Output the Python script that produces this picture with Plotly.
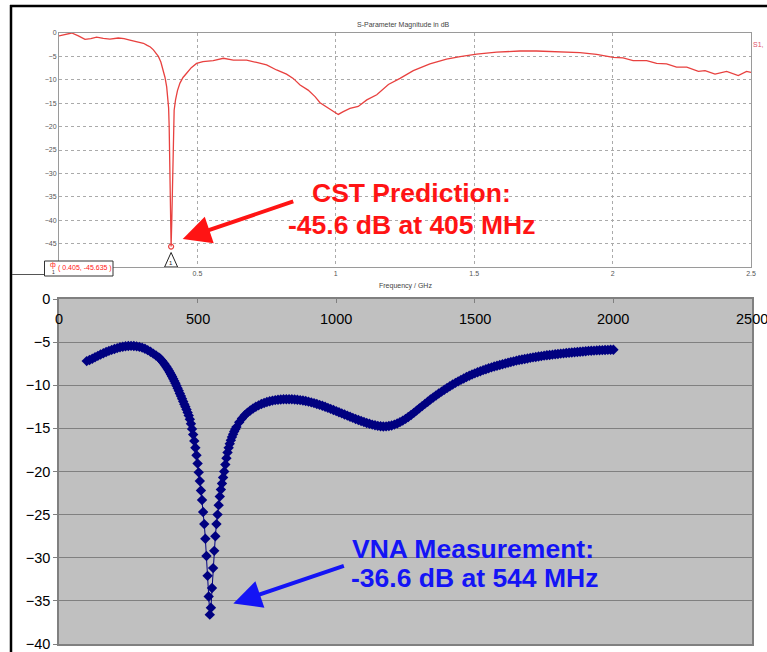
import plotly.graph_objects as go

W, H = 767, 652

# ---------------- CST simulation (top panel) ----------------
cst_freq_ghz = [0, 0.02, 0.046, 0.07, 0.094, 0.115, 0.136, 0.16, 0.184, 0.214, 0.235, 0.256, 0.275,
                0.293, 0.305, 0.317, 0.33, 0.341, 0.35, 0.359, 0.368, 0.377, 0.383, 0.389, 0.393, 0.396,
                0.398, 0.3995, 0.402, 0.4045, 0.405, 0.4075, 0.41, 0.4115, 0.413, 0.416, 0.421, 0.428,
                0.437, 0.448, 0.461, 0.478, 0.497, 0.52, 0.557, 0.594, 0.63, 0.678, 0.714, 0.75, 0.786,
                0.822, 0.846, 0.871, 0.9, 0.925, 0.943, 0.973, 1.009, 1.027, 1.051, 1.081, 1.112, 1.148,
                1.19, 1.232, 1.28, 1.34, 1.4, 1.449, 1.509, 1.581, 1.665, 1.725, 1.798, 1.882, 1.942,
                2.002, 2.038, 2.074, 2.123, 2.159, 2.195, 2.231, 2.268, 2.31, 2.334, 2.37, 2.412, 2.454,
                2.484, 2.5]
cst_s11_db = [-0.6, -0.3, 0.0, -0.6, -1.35, -1.2, -0.9, -1.15, -1.3, -1.07, -1.2, -1.5, -1.75,
              -1.9, -2.2, -2.6, -3.0, -3.6, -4.2, -5.0, -6.2, -7.9, -9.5, -11.5, -13.5, -16.0,
              -20.0, -25.0, -32.0, -40.0, -45.635, -40.0, -32.0, -25.0, -20.0, -16.5, -14.3, -12.3,
              -10.7, -9.5, -8.6, -7.4, -6.5, -6.1, -5.9, -5.4, -5.8, -5.8, -6.3, -6.8, -7.9,
              -8.8, -9.7, -11.1, -12.2, -13.6, -14.9, -16.1, -17.4, -16.8, -16.1, -15.7, -14.3, -13.2,
              -11.0, -9.7, -8.05, -6.6, -5.6, -5.05, -4.5, -4.1, -3.85, -3.85, -4.0, -4.2, -4.55,
              -5.2, -5.3, -5.9, -5.9, -6.5, -6.6, -7.3, -7.3, -8.2, -8.05, -8.8, -8.2, -9.1,
              -8.2, -8.4]
cst_marker_freq = 0.405
cst_marker_db = -45.635

top_xticks = [0, 0.5, 1, 1.5, 2, 2.5]
top_xtick_labels = ["0", "0.5", "1", "1.5", "2", "2.5"]
top_yticks = [0, -5, -10, -15, -20, -25, -30, -35, -40, -45]

# ---------------- VNA measurement (bottom panel) ----------------
vna_freq_mhz = [
    100, 110, 120, 130, 140, 150, 160, 170, 180, 190, 200, 210, 220, 230, 240, 250, 260, 270, 280,
    290, 300, 310, 320, 330, 340, 350, 360,
    364, 368, 372, 376, 380, 384, 388, 392, 396, 400, 404, 408, 412, 416, 420, 424, 428, 432, 436,
    440, 444, 448, 452, 456, 460, 464, 468, 472, 476, 480, 484, 488, 492, 496, 500, 504, 508, 512,
    516, 520, 524, 528, 532, 536, 540, 544, 548, 552, 556, 560, 564, 568, 572, 576, 580, 584, 588,
    592, 596, 600, 604, 608, 612, 616, 620, 624, 628, 632, 636, 640,
    650, 660, 670, 680, 690, 700, 710, 720, 730, 740, 750, 760, 770, 780, 790, 800, 810, 820, 830,
    840, 850, 860, 870, 880, 890, 900, 910, 920, 930, 940, 950, 960, 970, 980, 990, 1000, 1010,
    1020, 1030, 1040, 1050, 1060, 1070, 1080, 1090, 1100, 1110, 1120, 1130, 1140, 1150, 1160, 1170,
    1180, 1190, 1200, 1210, 1220, 1230, 1240, 1250, 1260, 1270, 1280, 1290, 1300, 1310, 1320, 1330,
    1340, 1350, 1360, 1370, 1380, 1390, 1400,
    1410, 1420, 1430, 1440, 1450, 1460, 1470, 1480, 1490, 1500, 1510, 1520, 1530, 1540, 1550, 1560,
    1570, 1580, 1590, 1600, 1610, 1620, 1630, 1640, 1650, 1660, 1670, 1680, 1690, 1700, 1710, 1720,
    1730, 1740, 1750, 1760, 1770, 1780, 1790, 1800, 1810, 1820, 1830, 1840, 1850, 1860, 1870, 1880,
    1890, 1900, 1910, 1920, 1930, 1940, 1950, 1960, 1970, 1980, 1990, 2000]
vna_s11_db = [
    -7.2, -7.07, -6.92, -6.76, -6.6, -6.44, -6.29, -6.15, -6.02, -5.9, -5.79, -5.69, -5.6, -5.53,
    -5.48, -5.45, -5.44, -5.45, -5.49, -5.55, -5.64, -5.77, -5.93, -6.12, -6.33, -6.55, -6.77,
    -6.9, -7.04, -7.19, -7.35, -7.52, -7.7, -7.89, -8.09, -8.3, -8.52, -8.75, -8.99, -9.24, -9.5,
    -9.77, -10.05, -10.34, -10.64, -10.95, -11.26, -11.57, -11.88, -12.19, -12.5, -12.82, -13.15,
    -13.5, -13.95, -14.47, -15.06, -15.72, -16.45, -17.25, -18.12, -19.07, -20.1, -21.1, -22.2,
    -23.3, -24.7, -26.1, -27.8, -29.8, -32.1, -34.5, -36.6, -35.8, -33.5, -31.2, -29.2, -27.5,
    -26.1, -25.0, -23.9, -22.9, -22.1, -21.4, -20.7, -20.0, -19.2, -18.45, -17.8, -17.25, -16.78,
    -16.37, -16.0, -15.67, -15.37, -15.1, -14.85,
    -14.3, -13.85, -13.48, -13.17, -12.92, -12.7, -12.5, -12.33, -12.18, -12.05, -11.94, -11.85,
    -11.78, -11.72, -11.68, -11.65, -11.63, -11.62, -11.62, -11.63, -11.65, -11.68, -11.72, -11.77,
    -11.83, -11.9, -11.98, -12.07, -12.17, -12.27, -12.38, -12.5, -12.62, -12.74, -12.87, -13.0,
    -13.13, -13.26, -13.39, -13.52, -13.65, -13.78, -13.91, -14.03, -14.15, -14.26, -14.37, -14.47,
    -14.56, -14.64, -14.71, -14.76, -14.78, -14.77, -14.73, -14.66, -14.56, -14.43, -14.28, -14.1,
    -13.9, -13.68, -13.45, -13.2, -12.94, -12.68, -12.42, -12.16, -11.91, -11.66, -11.42, -11.19,
    -10.96, -10.74, -10.53, -10.32,
    -10.12, -9.92, -9.73, -9.55, -9.38, -9.21, -9.05, -8.9, -8.76, -8.62, -8.49, -8.37, -8.25, -8.14,
    -8.03, -7.93, -7.83, -7.74, -7.65, -7.56, -7.47, -7.39, -7.31, -7.23, -7.15, -7.08, -7.01, -6.95,
    -6.89, -6.83, -6.77, -6.72, -6.67, -6.62, -6.57, -6.53, -6.49, -6.45, -6.41, -6.37, -6.33, -6.3,
    -6.26, -6.23, -6.2, -6.17, -6.14, -6.11, -6.08, -6.05, -6.02, -6.0, -5.98, -5.96, -5.94, -5.93,
    -5.91, -5.9, -5.89, -5.88]

bot_xticks = [0, 500, 1000, 1500, 2000, 2500]
bot_xtick_labels = ["0", "500", "1000", "1500", "2000", "2500"]
bot_yticks = [0, -5, -10, -15, -20, -25, -30, -35, -40]


def px(p):
    return p / W


def py(p):
    return 1 - p / H


RED_LINE = "#E8413F"
RED_TXT = "#FF1414"
BLUE_TXT = "#1414F5"
NAVY = "#000080"

fig = go.Figure()

fig.add_trace(go.Scatter(x=cst_freq_ghz, y=cst_s11_db, mode="lines",
                         line=dict(color=RED_LINE, width=1.3), xaxis="x", yaxis="y",
                         hoverinfo="skip"))
fig.add_trace(go.Scatter(x=[cst_marker_freq], y=[cst_marker_db], mode="markers",
                         marker=dict(symbol="circle-open", size=5, color=RED_LINE,
                                     line=dict(width=1.2)),
                         xaxis="x", yaxis="y", cliponaxis=False))
fig.add_trace(go.Scatter(x=vna_freq_mhz, y=vna_s11_db, mode="lines+markers",
                         line=dict(color=NAVY, width=1),
                         marker=dict(symbol="diamond", size=8, color=NAVY),
                         xaxis="x2", yaxis="y2"))

top_tickfont = dict(family="Liberation Sans", size=7, color="#555555")
bot_tickfont = dict(family="Liberation Sans", size=14.5, color="black")

fig.update_layout(
    width=W, height=H, margin=dict(l=0, r=0, t=0, b=0, autoexpand=False),
    paper_bgcolor="white", plot_bgcolor="white", showlegend=False,
    font=dict(family="Liberation Sans"),
    xaxis=dict(domain=[px(59), px(751)], range=[0, 2.5], anchor="y",
               showline=True, mirror=True, linecolor="#9a9a9a", linewidth=1,
               showgrid=True, gridcolor="#aaaaaa", griddash="dot", gridwidth=1,
               zeroline=False, tickvals=top_xticks, ticktext=top_xtick_labels,
               ticks="", tickfont=top_tickfont, fixedrange=True),
    yaxis=dict(domain=[py(267), py(33)], range=[-50, 0], anchor="x",
               showline=True, mirror=True, linecolor="#9a9a9a", linewidth=1,
               showgrid=True, gridcolor="#aaaaaa", griddash="dot", gridwidth=1,
               zeroline=False, tickvals=top_yticks, ticks="", tickfont=top_tickfont,
               fixedrange=True),
    xaxis2=dict(domain=[px(59), px(752)], range=[0, 2500], anchor="y2", side="top",
                showline=True, mirror=True, linecolor="#808080", linewidth=1.5,
                showgrid=False, zeroline=False, showticklabels=False,
                tickvals=bot_xticks, ticks="inside", ticklen=4, tickcolor="#808080",
                fixedrange=True),
    yaxis2=dict(domain=[py(644), py(299)], range=[-40, 0], anchor="x2",
                showline=True, mirror=True, linecolor="#808080", linewidth=1.5,
                showgrid=True, gridcolor="#808080", gridwidth=1, zeroline=False,
                tickvals=bot_yticks, ticks="outside", ticklen=4, tickcolor="#808080",
                tickfont=bot_tickfont, ticklabeloverflow="allow", fixedrange=True),
)

shapes = [
    # grey plot area of the Excel chart
    dict(type="rect", xref="x2 domain", yref="y2 domain", x0=0, x1=1, y0=0, y1=1,
         fillcolor="#C0C0C0", line=dict(width=0), layer="below"),
    # black page border lines
    dict(type="line", xref="paper", yref="paper", x0=px(10), x1=1, y0=py(6), y1=py(6),
         line=dict(color="black", width=2.5)),
    dict(type="line", xref="paper", yref="paper", x0=px(11), x1=px(11), y0=0, y1=py(5),
         line=dict(color="black", width=2.5)),
    # small line left of the marker box
    dict(type="line", xref="paper", yref="paper", x0=px(12), x1=px(45), y0=py(274.5),
         y1=py(274.5), line=dict(color="#555555", width=1)),
    # marker read-out box
    dict(type="rect", xref="paper", yref="paper", x0=px(44.5), x1=px(113), y0=py(276),
         y1=py(261), fillcolor="white", line=dict(color="#333333", width=1), layer="above"),
    # marker triangle
    dict(type="path", xref="x", yref="y", layer="above",
         path=f"M {cst_marker_freq - 0.0235},-50 L {cst_marker_freq},-46.9 "
              f"L {cst_marker_freq + 0.0235},-50 Z",
         fillcolor="white", line=dict(color="#222222", width=1)),
]
fig.update_layout(shapes=shapes)

ann = [
    dict(text="S-Parameter Magnitude in dB", x=px(403), y=py(19), xref="paper", yref="paper",
         showarrow=False, font=dict(size=7, color="#444444")),
    dict(text="S1,", x=px(766), y=py(39), xref="paper", yref="paper", xanchor="right",
         showarrow=False, font=dict(size=7, color="#E0506A")),
    dict(text="Frequency / GHz", x=px(405), y=py(286), xref="paper", yref="paper",
         showarrow=False, font=dict(size=7, color="#444444")),
    dict(text=f"( {cst_marker_freq}, {cst_marker_db} )", x=px(56), y=py(268), xref="paper",
         yref="paper", xanchor="left", showarrow=False, font=dict(size=7, color=RED_TXT)),
    dict(text="ф", x=px(48), y=py(265.5), xref="paper", yref="paper", showarrow=False,
         font=dict(size=7, color=RED_TXT)),
    dict(text="1", x=px(50), y=py(271.5), xref="paper", yref="paper", showarrow=False,
         font=dict(size=5, color="#333333")),
    dict(text="1", x=cst_marker_freq, y=-49.2, xref="x", yref="y", showarrow=False,
         font=dict(size=6, color="#222222")),
    # CST call-out
    dict(text="<b>CST Prediction:</b>", x=1.275, y=-34.2, xref="x", yref="y", showarrow=False,
         font=dict(size=26.5, color=RED_TXT)),
    dict(text="<b>-45.6 dB at 405 MHz</b>", x=1.275, y=-41.0, xref="x", yref="y",
         showarrow=False, font=dict(size=26.5, color=RED_TXT)),
    dict(text="", x=0.447, y=-44.0, xref="x", yref="y", ax=112, ay=-38, showarrow=True,
         arrowhead=2, arrowsize=1.4, arrowwidth=4, arrowcolor=RED_TXT, standoff=0),
    # VNA call-out
    dict(text="<b>VNA Measurement:</b>", x=1050, y=-29.0, xref="x2", yref="y2",
         xanchor="left", showarrow=False, font=dict(size=26.5, color=BLUE_TXT)),
    dict(text="<b>-36.6 dB at 544 MHz</b>", x=1046, y=-32.4, xref="x2", yref="y2",
         xanchor="left", showarrow=False, font=dict(size=26.5, color=BLUE_TXT)),
    dict(text="", x=629, y=-35.3, xref="x2", yref="y2", ax=112, ay=-38, showarrow=True,
         arrowhead=2, arrowsize=1.4, arrowwidth=4, arrowcolor=BLUE_TXT, standoff=0),
]
# bottom chart x tick labels (drawn under the top axis line, inside the grey area)
for v, lab in zip(bot_xticks, bot_xtick_labels):
    ann.append(dict(text=lab, x=v, y=py(319), xref="x2", yref="paper", showarrow=False,
                    xanchor="center", yanchor="middle", font=bot_tickfont))
fig.update_layout(annotations=ann)

fig.write_html("out.html")
